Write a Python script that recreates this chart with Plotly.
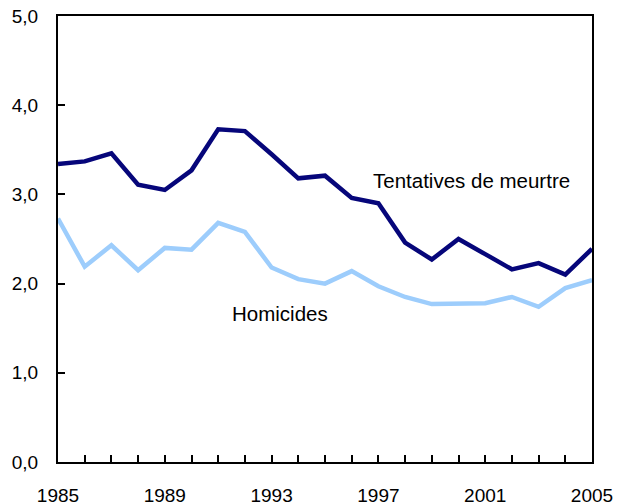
import plotly.graph_objects as go

years = list(range(1985, 2006))
tentatives = [3.34, 3.37, 3.46, 3.11, 3.05, 3.27, 3.73, 3.71, 3.45, 3.18, 3.21,
              2.96, 2.90, 2.46, 2.27, 2.50, 2.33, 2.16, 2.23, 2.10, 2.39]
homicides = [2.73, 2.19, 2.43, 2.15, 2.40, 2.38, 2.68, 2.58, 2.18, 2.05, 2.00,
             2.14, 1.97, 1.85, 1.77, 1.77, 1.78, 1.85, 1.74, 1.95, 2.04]
x_tick_vals = [1985, 1989, 1993, 1997, 2001, 2005]
y_tick_vals = [0, 1, 2, 3, 4, 5]

font_family = "Liberation Sans, Arial, Helvetica, sans-serif"

fig = go.Figure()
fig.add_trace(go.Scatter(x=years, y=tentatives, mode="lines",
                         line=dict(color="#06067a", width=4.5),
                         name="Tentatives de meurtre", showlegend=False))
fig.add_trace(go.Scatter(x=years, y=homicides, mode="lines",
                         line=dict(color="#9dcdfc", width=4.5),
                         name="Homicides", showlegend=False))

fig.add_annotation(x=2000.5, y=3.16, text="Tentatives de meurtre", showarrow=False,
                   font=dict(size=20.5, color="black", family=font_family))
fig.add_annotation(x=1993.32, y=1.66, text="Homicides", showarrow=False,
                   font=dict(size=20.5, color="black", family=font_family))

fig.update_layout(
    width=614, height=496,
    margin=dict(l=49.5, r=29.7, t=8, b=41.7, autoexpand=False),
    paper_bgcolor="white", plot_bgcolor="white",
    separators=", ",
    font=dict(family=font_family, size=19, color="black"),
)
fig.update_xaxes(range=[1985, 2005], tickvals=x_tick_vals, automargin=False,
                 showline=True, linecolor="black", linewidth=2, mirror=True,
                 ticks="inside", ticklen=7, tickwidth=2, tickcolor="black",
                 minor=dict(dtick=1, tick0=1985, ticks="inside", ticklen=7,
                            tickwidth=2, tickcolor="black", showgrid=False),
                 showgrid=False, zeroline=False, ticklabelstandoff=15,
                 ticklabeloverflow="allow", tickfont=dict(size=19))
fig.update_yaxes(range=[0, 5], tickvals=y_tick_vals, tickformat=".1f", automargin=False,
                 showline=True, linecolor="black", linewidth=2, mirror=True,
                 ticks="inside", ticklen=7, tickwidth=2, tickcolor="black",
                 showgrid=False, zeroline=False, ticklabelstandoff=14,
                 ticklabeloverflow="allow", tickfont=dict(size=19))

fig.write_html("out.html")
